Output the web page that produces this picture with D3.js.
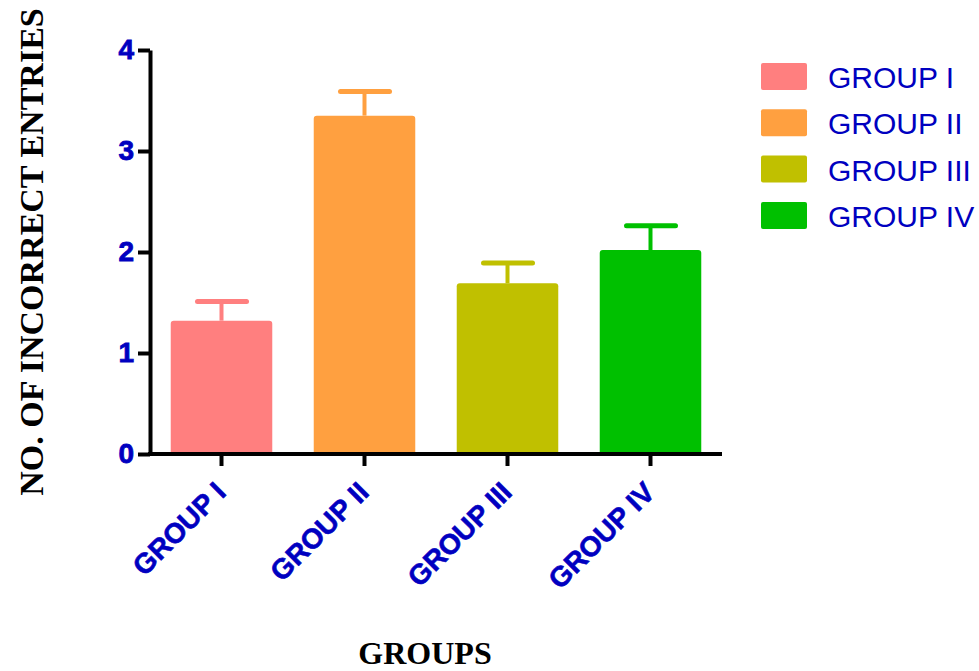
<!DOCTYPE html>
<html>
<head>
<meta charset="utf-8">
<script src="https://cdn.jsdelivr.net/npm/d3@7"></script>
<style>
  html, body { margin: 0; padding: 0; background: #fff; }
  svg { display: block; }
</style>
</head>
<body>
<svg id="chart" width="979" height="671"></svg>
<script>
// ---- data ----
const categories = ["GROUP I", "GROUP II", "GROUP III", "GROUP IV"];
const means = [1.32, 3.35, 1.69, 2.02];
const errors = [0.19, 0.24, 0.20, 0.24];
const colors = ["#FF7F7F", "#FFA040", "#C0C000", "#00C000"];
const yTicks = [0, 1, 2, 3, 4];

const svg = d3.select("#chart");
const blue = "#0000C0";

const x = d3.scaleBand().domain(categories).range([150, 722])
  .paddingInner(0.29).paddingOuter(0.145).align(0.5);
const y = d3.scaleLinear().domain([0, 4]).range([454, 50]);

// bars
const g = svg.append("g");
categories.forEach((c, i) => {
  const x0 = x(c), w = x.bandwidth();
  const yt = y(means[i]), yb = y(0);
  const r = 3;
  g.append("path")
    .attr("d", `M${x0},${yb} L${x0},${yt + r} Q${x0},${yt} ${x0 + r},${yt} L${x0 + w - r},${yt} Q${x0 + w},${yt} ${x0 + w},${yt + r} L${x0 + w},${yb} Z`)
    .attr("fill", colors[i]);
  const cx = x0 + w / 2;
  g.append("line").attr("x1", cx).attr("x2", cx)
    .attr("y1", yt).attr("y2", y(means[i] + errors[i]))
    .attr("stroke", colors[i]).attr("stroke-width", 4);
  g.append("line").attr("x1", cx - 24).attr("x2", cx + 25)
    .attr("y1", y(means[i] + errors[i])).attr("y2", y(means[i] + errors[i]))
    .attr("stroke", colors[i]).attr("stroke-width", 5).attr("stroke-linecap", "round");
});

// y axis
const yAxis = svg.append("g").attr("transform", "translate(150,0)")
  .call(d3.axisLeft(y).tickValues(yTicks).tickFormat(d3.format("d")).tickSize(12).tickSizeOuter(0).tickPadding(4));
yAxis.select(".domain").attr("stroke", "#000").attr("stroke-width", 4);
yAxis.selectAll(".tick line").attr("stroke", "#000").attr("stroke-width", 4);
yAxis.selectAll(".tick text")
  .attr("fill", blue).attr("font-family", "Liberation Sans, Arial, sans-serif")
  .attr("font-weight", "bold").attr("font-size", 28)
  .attr("stroke", blue).attr("stroke-width", 0.8);

// x axis
const xAxis = svg.append("g").attr("transform", "translate(0,454)")
  .call(d3.axisBottom(x).tickSize(12).tickSizeOuter(0).tickPadding(6));
xAxis.select(".domain").attr("stroke", "#000").attr("stroke-width", 4)
  .attr("d", "M148,0H722");
xAxis.selectAll(".tick line").attr("stroke", "#000").attr("stroke-width", 4);
xAxis.selectAll(".tick text")
  .attr("fill", blue).attr("font-family", "Liberation Sans, Arial, sans-serif")
  .attr("font-weight", "bold").attr("font-size", 28)
  .attr("stroke", blue).attr("stroke-width", 0.6)
  .attr("text-anchor", "end")
  .attr("dy", null)
  .attr("transform", "translate(6,40) rotate(-45)")
  .attr("x", 0).attr("y", 0);

// axis titles
svg.append("text")
  .attr("transform", "translate(43,252) rotate(-90)")
  .attr("text-anchor", "middle")
  .attr("font-family", "Liberation Serif, Times New Roman, serif")
  .attr("font-weight", "bold").attr("font-size", 34).attr("fill", "#000")
  .text("NO. OF INCORRECT ENTRIES");
svg.append("text")
  .attr("x", 425).attr("y", 664)
  .attr("text-anchor", "middle")
  .attr("font-family", "Liberation Serif, Times New Roman, serif")
  .attr("font-weight", "bold").attr("font-size", 32).attr("fill", "#000")
  .text("GROUPS");

// legend
const leg = svg.append("g");
categories.forEach((c, i) => {
  const yy = 63 + i * 46.3;
  leg.append("rect").attr("x", 761).attr("y", yy).attr("width", 46).attr("height", 27)
    .attr("rx", 2).attr("fill", colors[i]);
  leg.append("text").attr("x", 828).attr("y", yy + 25)
    .attr("font-family", "Liberation Sans, Arial, sans-serif")
    .attr("font-size", 30).attr("fill", blue)
    .text(c);
});
</script>
</body>
</html>
